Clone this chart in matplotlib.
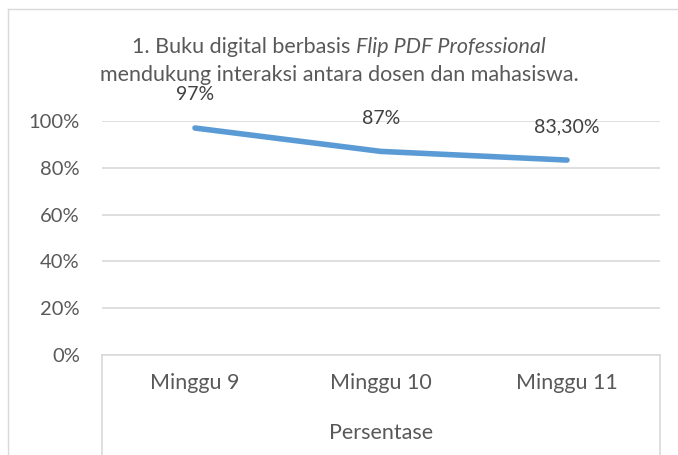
import matplotlib
matplotlib.use("Agg")
import matplotlib.pyplot as plt
from matplotlib.ticker import PercentFormatter

categories = ["Minggu 9", "Minggu 10", "Minggu 11"]
values = [0.97, 0.87, 0.833]
value_labels = ["97%", "87%", "83,30%"]
y_ticks = [0, 0.2, 0.4, 0.6, 0.8, 1.0]
axis_title = "Persentase"
title_plain = "1. Buku digital berbasis "
title_italic = "Flip PDF Professional"
title_line2 = "mendukung interaksi antara dosen dan mahasiswa."

TEXT = "#595959"
GRID = "#D9D9D9"
BLUE = "#5B9BD5"

plt.rcParams["font.family"] = ["Lato", "DejaVu Sans"]

W, H = 678, 455
fig = plt.figure(figsize=(W / 100, H / 100), dpi=100)

# outer chart border (top and left visible)
fig.add_artist(plt.Line2D([8 / W, 1], [1 - 9 / H, 1 - 9 / H], color=GRID, lw=1))
fig.add_artist(plt.Line2D([8 / W, 8 / W], [0, 1 - 9 / H], color=GRID, lw=1))

left, right, top, bottom = 102, 660, 121, 355
ax = fig.add_axes([left / W, 1 - bottom / H, (right - left) / W, (bottom - top) / H])

x = list(range(len(categories)))
ax.plot(x, values, color=BLUE, lw=4, solid_capstyle="round", solid_joinstyle="round", zorder=3)

for xi, v, lab in zip(x, values, value_labels):
    ax.annotate(lab, (xi, v), xytext=(0, 24), textcoords="offset points",
                ha="center", va="center", fontsize=14, color="#404040")

ax.set_xlim(-0.5, len(categories) - 0.5)
ax.set_ylim(0, 1)
ax.set_yticks(y_ticks)
ax.yaxis.set_major_formatter(PercentFormatter(1.0, decimals=0))
ax.tick_params(axis="y", length=0, pad=16, labelsize=14.5, labelcolor=TEXT)
ax.set_xticks(x)
ax.set_xticklabels(categories)
ax.tick_params(axis="x", length=0, pad=13, labelsize=15.5, labelcolor=TEXT)
ax.grid(axis="y", color=GRID, lw=1.2)
ax.set_axisbelow(True)
for side in ["top", "right", "left"]:
    ax.spines[side].set_visible(False)
ax.spines["bottom"].set_color(GRID)
ax.spines["bottom"].set_linewidth(1.2)

# category box dividers below the axis
depth = (H - bottom) / (bottom - top)
for xe in [0, 1]:
    ax.plot([xe, xe], [0, -depth], transform=ax.transAxes, color=GRID, lw=1.2, clip_on=False)

ax.text(0.5, -(433 - bottom) / (bottom - top), axis_title, transform=ax.transAxes,
        ha="center", va="center", fontsize=15.5, color=TEXT)

# title: plain + italic part, centred together
y1 = 1 - 47 / H
t1 = fig.text(0, y1, title_plain, ha="left", va="center", fontsize=15.5, color=TEXT)
t2 = fig.text(0, y1, title_italic, ha="left", va="center", fontsize=15.5, color=TEXT,
              style="italic")
r = fig.canvas.get_renderer()
w1 = t1.get_window_extent(r).width
w2 = t2.get_window_extent(r).width
x0 = (W - (w1 + w2)) / 2
t1.set_x(x0 / W)
t2.set_x((x0 + w1) / W)
fig.text(0.5, 1 - 75 / H, title_line2, ha="center", va="center", fontsize=15.5, color=TEXT)

fig.savefig("out.png", dpi=100)
